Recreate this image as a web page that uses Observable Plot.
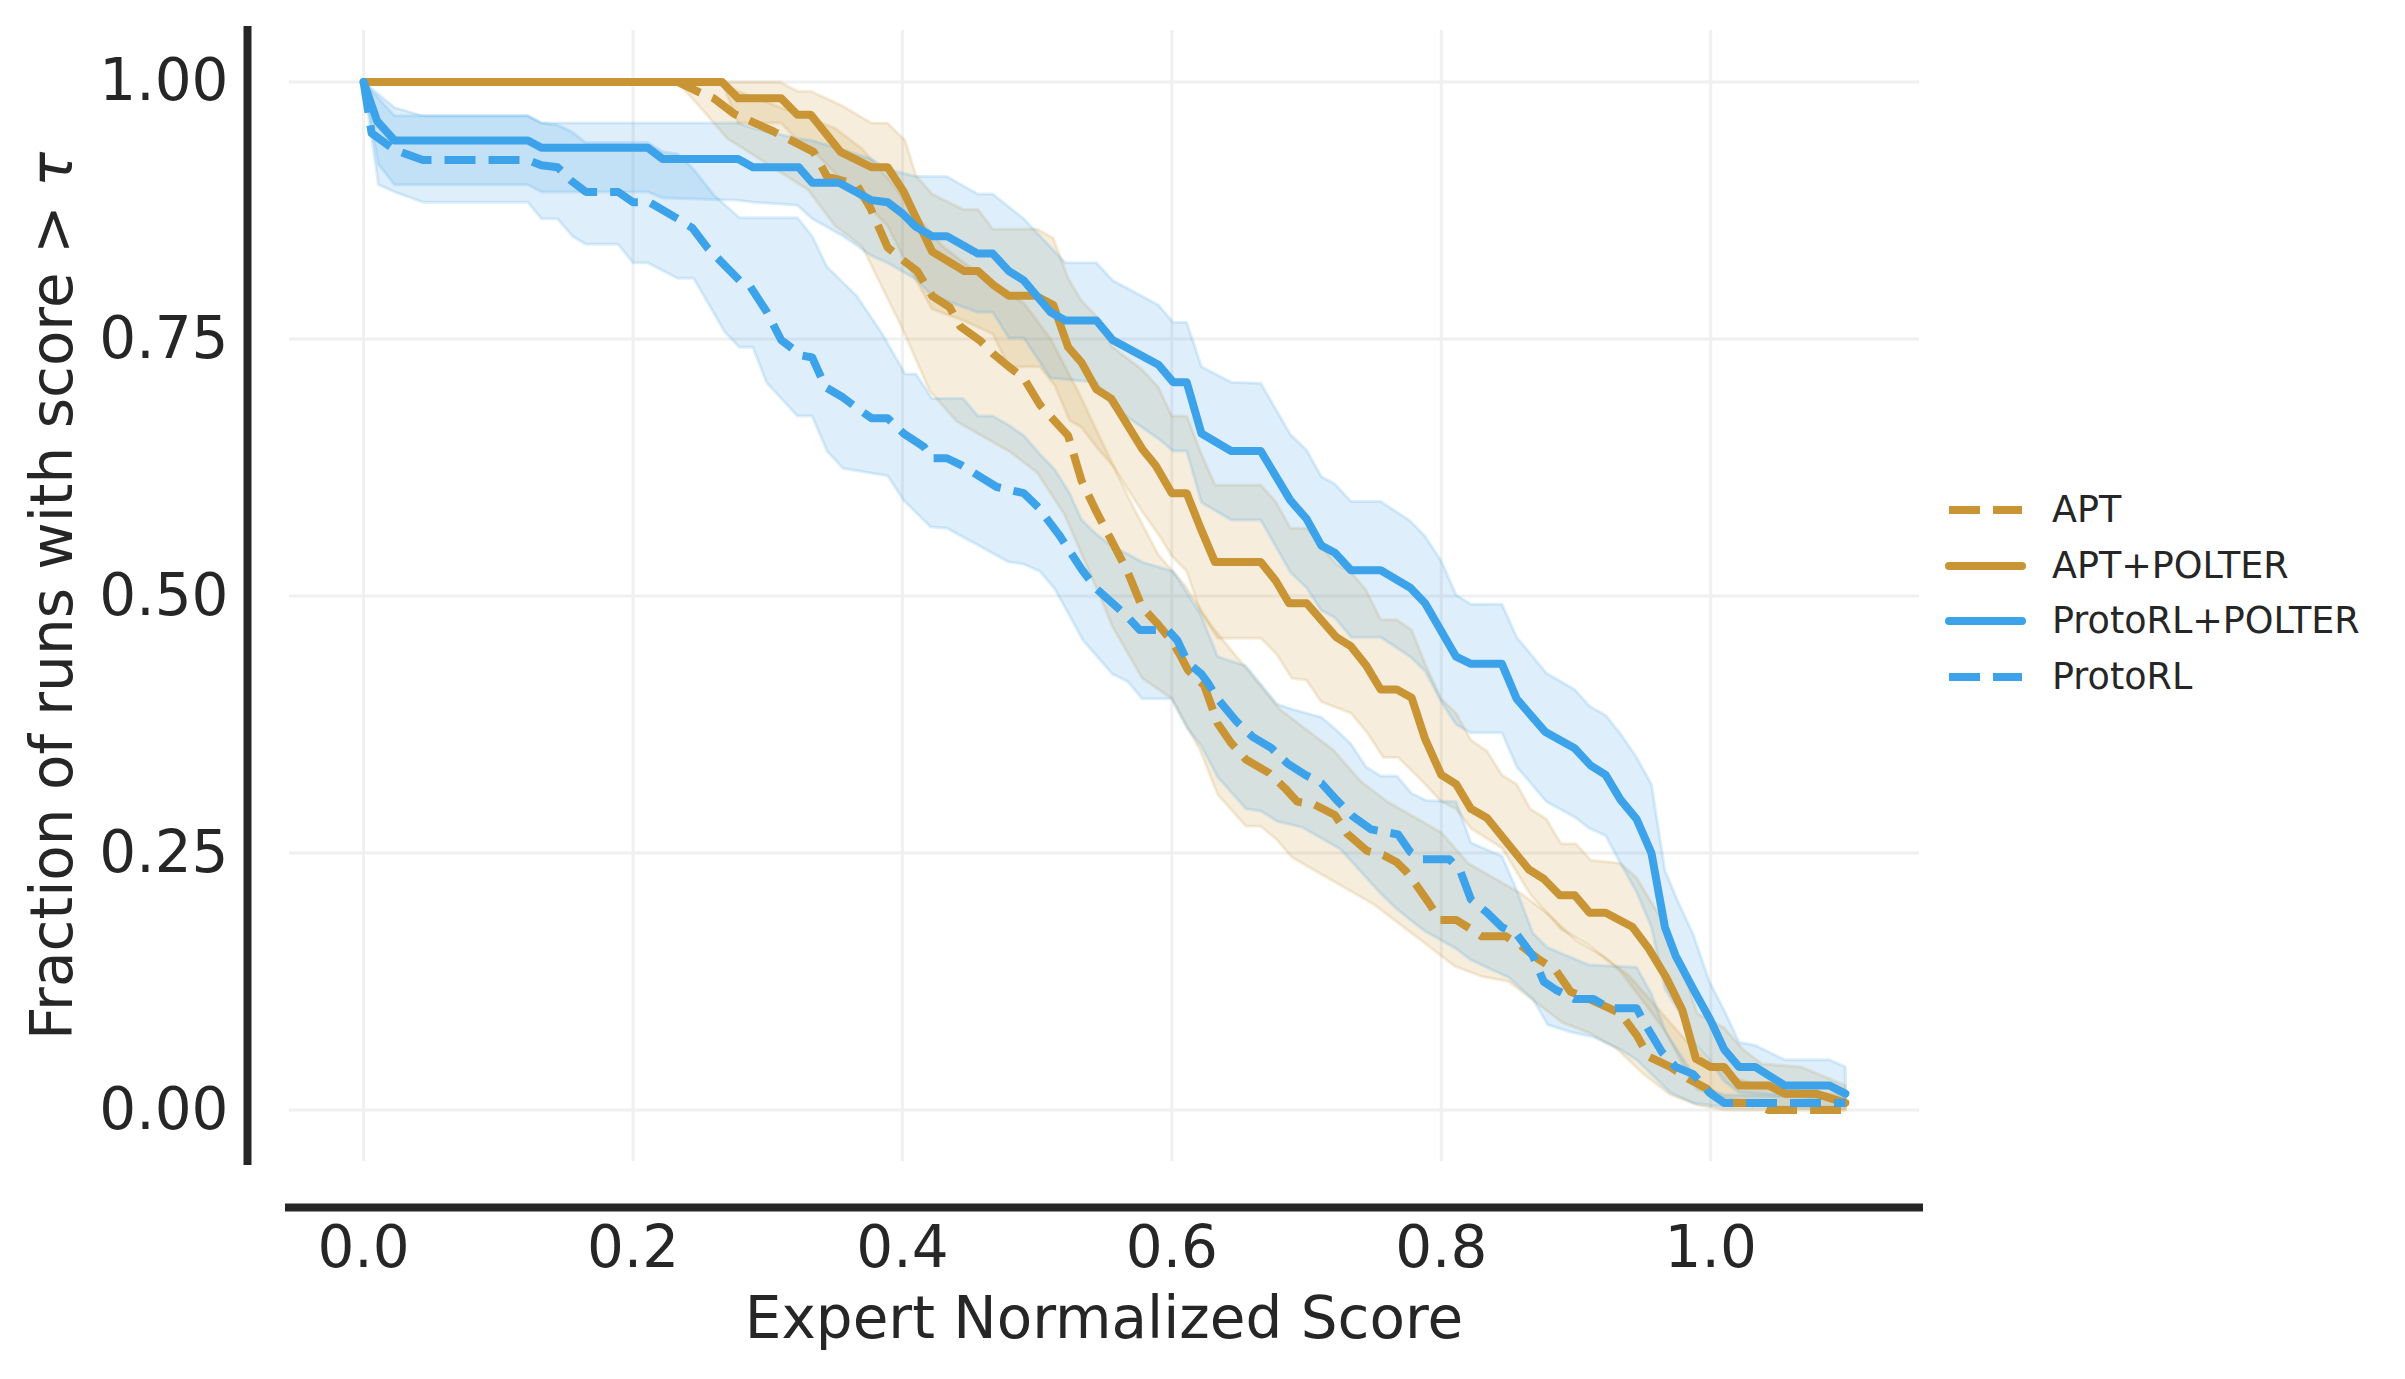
<!DOCTYPE html>
<html>
<head>
<meta charset="utf-8">
<script src="https://cdn.jsdelivr.net/npm/d3@7"></script>
<script src="https://cdn.jsdelivr.net/npm/@observablehq/plot@0.6"></script>
<style>
  html, body { margin: 0; padding: 0; background: #fff; }
  #wrap { position: relative; width: 2405px; height: 1379px; font-family: "DejaVu Sans", sans-serif; color: #262626; }
  #wrap svg { position: absolute; left: 0; top: 0; }
  .ttl { position: absolute; white-space: nowrap; font-size: 58px; line-height: 1.164; }
  .leg { position: absolute; white-space: nowrap; font-size: 36.5px; line-height: 55.5px; height: 55.5px; }
</style>
</head>
<body>
<div id="wrap"></div>
<script>
// ---------- data ----------
const seriesNames = ["APT", "APT+POLTER", "ProtoRL+POLTER", "ProtoRL"];
const xTicks = [0, 0.2, 0.4, 0.6, 0.8, 1.0];
const yTicks = [0, 0.25, 0.5, 0.75, 1.0];
const xDomain = [-0.055, 1.155];
const yDomain = [-0.05, 1.05];

const apt = [[0,1],[0.233,1],[0.249,0.99],[0.26,0.984],[0.275,0.969],[0.304,0.952],[0.334,0.932],[0.344,0.908],[0.366,0.9],[0.376,0.878],[0.389,0.839],[0.401,0.826],[0.411,0.816],[0.422,0.792],[0.435,0.781],[0.443,0.762],[0.458,0.748],[0.467,0.736],[0.479,0.723],[0.49,0.712],[0.502,0.686],[0.523,0.656],[0.533,0.612],[0.544,0.582],[0.556,0.552],[0.567,0.524],[0.578,0.489],[0.59,0.472],[0.6,0.456],[0.606,0.443],[0.612,0.428],[0.624,0.413],[0.63,0.391],[0.634,0.376],[0.644,0.357],[0.655,0.341],[0.672,0.328],[0.684,0.313],[0.693,0.3],[0.706,0.297],[0.721,0.287],[0.73,0.269],[0.745,0.252],[0.757,0.248],[0.767,0.241],[0.774,0.232],[0.782,0.218],[0.79,0.203],[0.799,0.185],[0.811,0.185],[0.822,0.176],[0.83,0.169],[0.848,0.169],[0.859,0.16],[0.873,0.146],[0.885,0.136],[0.896,0.115],[0.91,0.108],[0.925,0.099],[0.933,0.094],[0.945,0.073],[0.954,0.052],[0.97,0.042],[0.984,0.03],[0.997,0.021],[1.008,0.007],[1.031,0.007],[1.043,0],[1.1,0]];

const aptPolter = [[0,1],[0.266,1],[0.278,0.984],[0.31,0.984],[0.322,0.968],[0.332,0.968],[0.354,0.932],[0.377,0.917],[0.389,0.917],[0.401,0.893],[0.422,0.835],[0.446,0.816],[0.456,0.816],[0.468,0.802],[0.479,0.792],[0.499,0.792],[0.512,0.783],[0.523,0.742],[0.533,0.727],[0.544,0.701],[0.555,0.692],[0.578,0.643],[0.588,0.627],[0.6,0.6],[0.611,0.6],[0.621,0.567],[0.632,0.533],[0.666,0.533],[0.677,0.515],[0.687,0.493],[0.7,0.493],[0.722,0.46],[0.733,0.451],[0.744,0.433],[0.755,0.409],[0.767,0.409],[0.778,0.401],[0.788,0.361],[0.8,0.326],[0.811,0.317],[0.822,0.293],[0.834,0.284],[0.865,0.234],[0.876,0.225],[0.888,0.209],[0.899,0.209],[0.91,0.192],[0.922,0.192],[0.942,0.178],[0.954,0.157],[0.967,0.129],[0.979,0.097],[0.989,0.05],[1.0,0.042],[1.01,0.042],[1.021,0.024],[1.043,0.024],[1.055,0.016],[1.078,0.016],[1.1,0.007]];

const protoPolter = [[0,1],[0.01,0.962],[0.023,0.943],[0.122,0.943],[0.132,0.936],[0.211,0.936],[0.222,0.925],[0.278,0.925],[0.289,0.917],[0.323,0.917],[0.333,0.902],[0.353,0.902],[0.377,0.885],[0.389,0.883],[0.4,0.872],[0.41,0.859],[0.422,0.85],[0.433,0.85],[0.456,0.833],[0.467,0.833],[0.479,0.816],[0.49,0.807],[0.51,0.776],[0.521,0.768],[0.544,0.768],[0.556,0.749],[0.59,0.725],[0.601,0.708],[0.611,0.708],[0.622,0.658],[0.644,0.641],[0.666,0.641],[0.688,0.593],[0.7,0.575],[0.711,0.549],[0.721,0.542],[0.733,0.525],[0.755,0.525],[0.777,0.508],[0.788,0.493],[0.811,0.441],[0.822,0.434],[0.845,0.434],[0.856,0.4],[0.877,0.368],[0.899,0.352],[0.911,0.335],[0.922,0.326],[0.933,0.302],[0.945,0.283],[0.956,0.25],[0.966,0.178],[0.974,0.15],[0.987,0.118],[1.0,0.087],[1.01,0.059],[1.021,0.042],[1.033,0.042],[1.055,0.024],[1.088,0.024],[1.1,0.016]];

const proto = [[0,1],[0.006,0.95],[0.023,0.934],[0.044,0.924],[0.122,0.924],[0.132,0.919],[0.144,0.917],[0.154,0.904],[0.165,0.893],[0.189,0.893],[0.2,0.883],[0.212,0.883],[0.233,0.867],[0.244,0.858],[0.255,0.839],[0.279,0.807],[0.287,0.801],[0.299,0.777],[0.31,0.749],[0.325,0.734],[0.333,0.732],[0.343,0.703],[0.356,0.693],[0.367,0.682],[0.377,0.673],[0.389,0.673],[0.401,0.658],[0.416,0.645],[0.422,0.634],[0.433,0.634],[0.444,0.627],[0.47,0.606],[0.49,0.6],[0.501,0.586],[0.516,0.56],[0.533,0.526],[0.544,0.507],[0.556,0.493],[0.567,0.48],[0.576,0.467],[0.597,0.467],[0.604,0.457],[0.612,0.435],[0.622,0.424],[0.627,0.415],[0.634,0.4],[0.648,0.378],[0.66,0.363],[0.674,0.352],[0.686,0.337],[0.699,0.326],[0.711,0.318],[0.722,0.302],[0.734,0.286],[0.748,0.273],[0.768,0.268],[0.777,0.251],[0.785,0.244],[0.806,0.244],[0.814,0.233],[0.822,0.205],[0.834,0.192],[0.845,0.178],[0.856,0.171],[0.868,0.15],[0.876,0.125],[0.885,0.117],[0.899,0.108],[0.913,0.108],[0.925,0.099],[0.945,0.099],[0.953,0.08],[0.964,0.056],[0.974,0.042],[0.987,0.035],[0.999,0.017],[1.01,0.007],[1.1,0.007]];

// confidence bands: upper and lower edges
const aptHi = [[0,1],[0.26,1],[0.29,0.985],[0.32,0.97],[0.35,0.955],[0.37,0.935],[0.39,0.905],[0.41,0.87],[0.43,0.84],[0.45,0.82],[0.47,0.8],[0.49,0.785],[0.51,0.75],[0.53,0.7],[0.55,0.645],[0.57,0.59],[0.59,0.54],[0.61,0.51],[0.63,0.47],[0.655,0.43],[0.68,0.39],[0.7,0.37],[0.72,0.35],[0.74,0.32],[0.76,0.3],[0.78,0.285],[0.8,0.27],[0.82,0.24],[0.84,0.225],[0.86,0.21],[0.88,0.19],[0.9,0.165],[0.92,0.15],[0.94,0.13],[0.96,0.1],[0.98,0.07],[1.0,0.045],[1.02,0.03],[1.05,0.02],[1.1,0.015]];
const aptLo = [[0,1],[0.233,1],[0.25,0.975],[0.27,0.945],[0.3,0.92],[0.33,0.895],[0.35,0.86],[0.37,0.84],[0.385,0.8],[0.4,0.76],[0.42,0.7],[0.44,0.67],[0.46,0.655],[0.48,0.64],[0.5,0.62],[0.52,0.58],[0.54,0.52],[0.556,0.47],[0.578,0.42],[0.6,0.4],[0.621,0.35],[0.634,0.307],[0.655,0.276],[0.666,0.276],[0.678,0.263],[0.689,0.246],[0.71,0.23],[0.73,0.215],[0.75,0.2],[0.77,0.18],[0.79,0.16],[0.81,0.14],[0.83,0.13],[0.85,0.125],[0.87,0.105],[0.89,0.085],[0.91,0.075],[0.93,0.06],[0.95,0.035],[0.97,0.015],[0.99,0.005],[1.01,0],[1.1,0]];

const aptPolterHi = [[0,1],[0.309,1],[0.322,0.991],[0.332,0.991],[0.355,0.977],[0.377,0.96],[0.389,0.96],[0.402,0.943],[0.41,0.909],[0.422,0.891],[0.445,0.876],[0.456,0.876],[0.467,0.857],[0.5,0.857],[0.512,0.848],[0.523,0.809],[0.533,0.787],[0.544,0.772],[0.556,0.742],[0.567,0.731],[0.578,0.72],[0.59,0.703],[0.6,0.675],[0.611,0.675],[0.621,0.641],[0.632,0.608],[0.666,0.608],[0.677,0.592],[0.688,0.566],[0.7,0.566],[0.722,0.531],[0.733,0.523],[0.744,0.506],[0.755,0.477],[0.767,0.477],[0.778,0.467],[0.788,0.434],[0.8,0.4],[0.811,0.386],[0.822,0.36],[0.834,0.349],[0.845,0.326],[0.856,0.317],[0.866,0.293],[0.878,0.283],[0.889,0.259],[0.9,0.259],[0.911,0.243],[0.933,0.24],[0.945,0.226],[0.956,0.202],[0.967,0.178],[0.979,0.139],[0.99,0.094],[1.01,0.08],[1.024,0.059],[1.038,0.045],[1.067,0.042],[1.1,0.024]];
const aptPolterLo = [[0,1],[0.266,1],[0.278,0.96],[0.31,0.96],[0.322,0.943],[0.333,0.934],[0.354,0.906],[0.377,0.876],[0.389,0.86],[0.401,0.829],[0.422,0.779],[0.445,0.768],[0.467,0.755],[0.479,0.723],[0.502,0.723],[0.513,0.705],[0.524,0.671],[0.533,0.664],[0.544,0.645],[0.556,0.627],[0.578,0.582],[0.59,0.56],[0.6,0.539],[0.611,0.524],[0.621,0.485],[0.634,0.459],[0.666,0.459],[0.678,0.443],[0.689,0.42],[0.7,0.418],[0.711,0.397],[0.733,0.386],[0.745,0.367],[0.757,0.343],[0.768,0.343],[0.785,0.321],[0.8,0.3],[0.811,0.293],[0.822,0.274],[0.845,0.255],[0.866,0.21],[0.889,0.176],[0.91,0.16],[0.933,0.135],[0.956,0.095],[0.967,0.075],[0.979,0.045],[0.99,0.02],[1.01,0.012],[1.05,0.003],[1.1,0]];

const protoPolterHi = [[0,1],[0.023,0.975],[0.044,0.967],[0.122,0.967],[0.132,0.96],[0.278,0.96],[0.289,0.955],[0.322,0.945],[0.333,0.943],[0.353,0.935],[0.377,0.925],[0.389,0.915],[0.41,0.908],[0.433,0.908],[0.456,0.891],[0.467,0.891],[0.49,0.867],[0.521,0.824],[0.544,0.824],[0.556,0.807],[0.59,0.783],[0.601,0.766],[0.611,0.766],[0.622,0.723],[0.644,0.708],[0.666,0.707],[0.688,0.657],[0.7,0.642],[0.711,0.616],[0.721,0.609],[0.733,0.592],[0.755,0.592],[0.777,0.573],[0.788,0.558],[0.8,0.534],[0.811,0.501],[0.822,0.492],[0.845,0.492],[0.856,0.46],[0.878,0.425],[0.899,0.409],[0.91,0.393],[0.922,0.384],[0.933,0.366],[0.945,0.343],[0.956,0.317],[0.966,0.233],[0.976,0.202],[0.987,0.171],[0.999,0.125],[1.01,0.097],[1.021,0.066],[1.033,0.063],[1.055,0.049],[1.088,0.049],[1.1,0.042]];
const protoPolterLo = [[0,1],[0.011,0.92],[0.023,0.9],[0.122,0.9],[0.132,0.893],[0.211,0.893],[0.222,0.887],[0.278,0.885],[0.289,0.883],[0.322,0.88],[0.333,0.867],[0.356,0.85],[0.377,0.831],[0.389,0.824],[0.41,0.808],[0.422,0.792],[0.456,0.776],[0.467,0.776],[0.479,0.751],[0.49,0.751],[0.51,0.712],[0.544,0.708],[0.556,0.684],[0.59,0.653],[0.601,0.641],[0.611,0.641],[0.622,0.591],[0.644,0.574],[0.666,0.574],[0.688,0.523],[0.7,0.508],[0.711,0.486],[0.721,0.479],[0.733,0.46],[0.755,0.46],[0.777,0.441],[0.788,0.427],[0.8,0.397],[0.811,0.375],[0.822,0.367],[0.845,0.367],[0.856,0.334],[0.878,0.3],[0.899,0.285],[0.91,0.274],[0.922,0.267],[0.933,0.24],[0.945,0.212],[0.956,0.178],[0.966,0.118],[0.976,0.097],[0.987,0.066],[0.999,0.049],[1.01,0.028],[1.021,0.017],[1.055,0.014],[1.1,0.01]];

const protoHi = [[0,1],[0.023,0.967],[0.122,0.967],[0.132,0.96],[0.144,0.958],[0.154,0.952],[0.165,0.941],[0.211,0.941],[0.222,0.932],[0.233,0.93],[0.245,0.915],[0.26,0.89],[0.279,0.868],[0.322,0.868],[0.333,0.85],[0.344,0.82],[0.366,0.792],[0.385,0.755],[0.402,0.716],[0.41,0.716],[0.422,0.692],[0.445,0.692],[0.456,0.675],[0.467,0.675],[0.479,0.666],[0.49,0.656],[0.502,0.638],[0.513,0.623],[0.524,0.6],[0.533,0.574],[0.544,0.56],[0.556,0.548],[0.567,0.541],[0.578,0.533],[0.601,0.524],[0.621,0.483],[0.634,0.441],[0.655,0.432],[0.678,0.395],[0.689,0.39],[0.711,0.382],[0.721,0.371],[0.733,0.356],[0.744,0.334],[0.755,0.325],[0.767,0.325],[0.778,0.308],[0.789,0.301],[0.811,0.3],[0.822,0.26],[0.845,0.247],[0.855,0.217],[0.868,0.172],[0.879,0.158],[0.91,0.141],[0.945,0.139],[0.956,0.113],[0.967,0.075],[0.981,0.047],[0.993,0.023],[1.01,0.015],[1.1,0.012]];
const protoLo = [[0,1],[0.011,0.9],[0.023,0.893],[0.044,0.883],[0.122,0.883],[0.132,0.867],[0.144,0.867],[0.155,0.85],[0.165,0.842],[0.189,0.842],[0.2,0.824],[0.211,0.824],[0.233,0.809],[0.245,0.809],[0.268,0.757],[0.279,0.742],[0.289,0.742],[0.299,0.708],[0.322,0.675],[0.333,0.675],[0.344,0.641],[0.356,0.624],[0.389,0.617],[0.401,0.593],[0.421,0.567],[0.433,0.566],[0.479,0.533],[0.49,0.531],[0.502,0.524],[0.513,0.507],[0.524,0.481],[0.534,0.457],[0.556,0.424],[0.567,0.417],[0.578,0.4],[0.6,0.4],[0.611,0.372],[0.622,0.354],[0.634,0.324],[0.655,0.293],[0.666,0.291],[0.678,0.281],[0.697,0.275],[0.725,0.254],[0.754,0.212],[0.765,0.198],[0.777,0.185],[0.788,0.174],[0.811,0.157],[0.822,0.146],[0.85,0.129],[0.868,0.108],[0.879,0.083],[0.896,0.076],[0.913,0.071],[0.933,0.059],[0.945,0.049],[0.956,0.035],[0.97,0.017],[0.987,0.007],[1.01,0.003],[1.1,0.003]];

// ---------- styling ----------
const GOLD = "#c99434";
const BLUE = "#3ca3ea";
const INK = "#262626";
const GRID = "#f0f0f0";
const DASH = "31,13";

const series = [
  {name: seriesNames[0], line: apt,         hi: aptHi,         lo: aptLo,         color: GOLD, dashed: true},
  {name: seriesNames[1], line: aptPolter,   hi: aptPolterHi,   lo: aptPolterLo,   color: GOLD, dashed: false},
  {name: seriesNames[2], line: protoPolter, hi: protoPolterHi, lo: protoPolterLo, color: BLUE, dashed: false},
  {name: seriesNames[3], line: proto,       hi: protoHi,       lo: protoLo,       color: BLUE, dashed: true}
];

const toRows = (pairs) => pairs.map(([x, y]) => ({x, y}));

const bandMarks = series.map(s => {
  const ring = toRows(s.hi.concat(s.lo.slice().reverse()));
  return Plot.line(ring, {x: "x", y: "y", fill: s.color, fillOpacity: 0.17,
    stroke: s.color, strokeOpacity: 0.17, strokeWidth: 3, strokeLinejoin: "round"});
});

const lineMarks = series.map(s => Plot.line(toRows(s.line), {
  x: "x", y: "y", stroke: s.color, strokeWidth: 8,
  strokeDasharray: s.dashed ? DASH : null,
  strokeLinecap: s.dashed ? "butt" : "round", strokeLinejoin: "round"
}));

const plot = Plot.plot({
  width: 2405, height: 1379,
  marginLeft: 289, marginRight: 486, marginTop: 30, marginBottom: 218,
  x: {domain: xDomain},
  y: {domain: yDomain},
  style: {fontFamily: "DejaVu Sans", color: INK, background: "transparent", overflow: "visible"},
  marks: [
    Plot.gridX(xTicks, {stroke: GRID, strokeOpacity: 1, strokeWidth: 3}),
    Plot.gridY(yTicks, {stroke: GRID, strokeOpacity: 1, strokeWidth: 3}),
    ...bandMarks,
    ...lineMarks,
    Plot.axisX(xTicks, {tickSize: 0, tickPadding: 64, fontSize: 58, tickFormat: d => d.toFixed(1), label: null, fill: INK}),
    Plot.axisY(yTicks, {tickSize: 0, tickPadding: 61, fontSize: 58, tickFormat: d => d.toFixed(2), label: null, fill: INK}),
    Plot.ruleX([xDomain[0]], {dx: -42, stroke: INK, strokeWidth: 8, strokeLinecap: "square"}),
    Plot.ruleY([yDomain[0]], {dy: 46, stroke: INK, strokeWidth: 8, strokeLinecap: "square"})
  ]
});

const wrap = document.getElementById("wrap");
wrap.appendChild(plot);

// axis titles
const yt = document.createElement("div");
yt.className = "ttl";
yt.innerHTML = 'Fraction of runs with score &gt; <i>τ</i>';
yt.style.left = "53px"; yt.style.top = "596px";
yt.style.transform = "translate(-50%,-50%) rotate(-90deg)";
wrap.appendChild(yt);

const xt = document.createElement("div");
xt.className = "ttl";
xt.textContent = "Expert Normalized Score";
xt.style.left = "1104px"; xt.style.top = "1285px";
xt.style.transform = "translateX(-50%)";
wrap.appendChild(xt);

// legend
const legendCenters = [510, 565.5, 621, 676.5];
series.forEach((s, i) => {
  const cy = legendCenters[i];
  const sw = d3.create("svg").attr("width", 90).attr("height", 20)
    .style("position", "absolute").style("left", "1940px").style("top", (cy - 10) + "px");
  sw.append("line").attr("x1", 9).attr("x2", 82).attr("y1", 10).attr("y2", 10)
    .attr("stroke", s.color).attr("stroke-width", 8)
    .attr("stroke-dasharray", s.dashed ? DASH : null)
    .attr("stroke-linecap", s.dashed ? "butt" : "round");
  wrap.appendChild(sw.node());
  const t = document.createElement("div");
  t.className = "leg";
  t.textContent = s.name;
  t.style.left = "2052px"; t.style.top = (cy - 27.75) + "px";
  wrap.appendChild(t);
});
</script>
</body>
</html>
